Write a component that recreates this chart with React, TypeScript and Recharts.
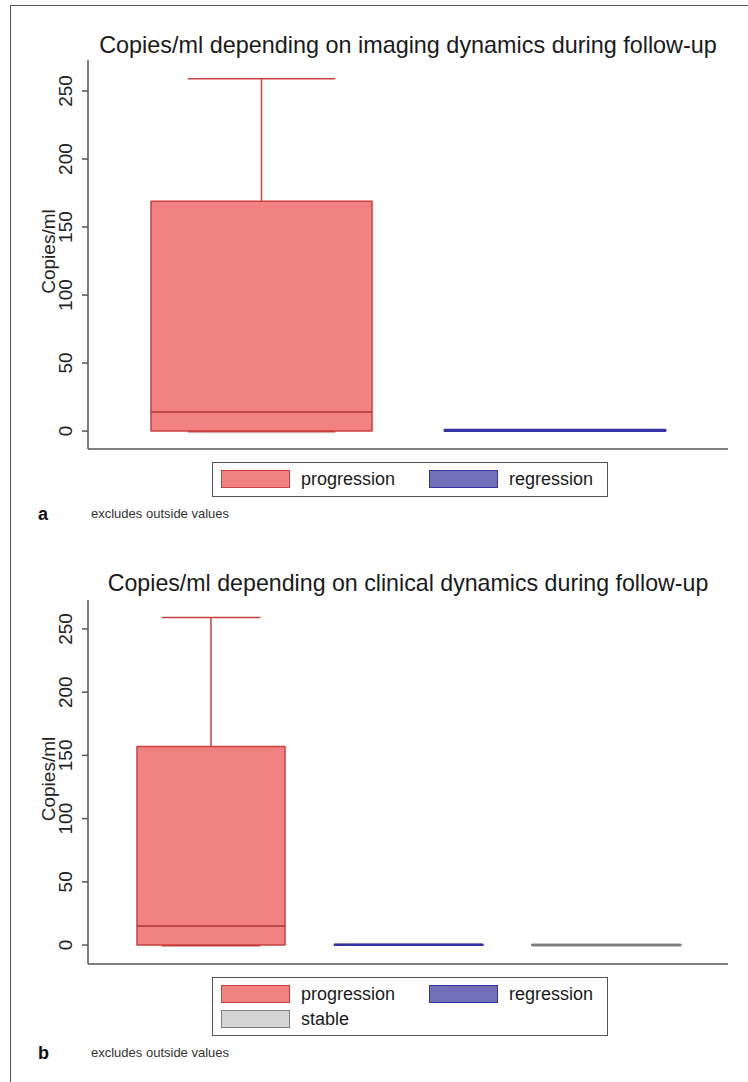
import { Bar, ComposedChart, XAxis, YAxis } from 'recharts'

// panel a: imaging dynamics
const imagingGroups = ['progression', 'regression']
const imagingMin = [0, 0]
const imagingQ1 = [0, 0]
const imagingMedian = [14, 0.5]
const imagingQ3 = [169, 1]
const imagingMax = [259, 1]

// panel b: clinical dynamics
const clinicalGroups = ['progression', 'regression', 'stable']
const clinicalMin = [0, 0, 0]
const clinicalQ1 = [0, 0, 0]
const clinicalMedian = [15, 0.3, 0]
const clinicalQ3 = [157, 0.6, 0]
const clinicalMax = [259, 0.6, 0]

const yTicks = [0, 50, 100, 150, 200, 250]

const FONT = '"Liberation Sans", Arial, Helvetica, sans-serif'
const AXIS = '#555'

const groupStyle: Record<string, { fill: string; stroke: string; median: string; legend: string; line: number }> = {
  progression: { fill: '#f28282', stroke: '#c8403f', median: '#b54848', legend: '#f28282', line: 1.5 },
  regression: { fill: '#6f70b8', stroke: '#3434a6', median: '#3434a6', legend: '#6f70b8', line: 1.8 },
  stable: { fill: '#d4d4d4', stroke: '#7e7e7e', median: '#7e7e7e', legend: '#d4d4d4', line: 2.4 },
}

function buildRows(groups: string[], min: number[], q1: number[], med: number[], q3: number[], max: number[]) {
  return groups.map((name, i) => ({
    name,
    base: min[i],
    lowW: q1[i] - min[i],
    boxLo: med[i] - q1[i],
    boxHi: q3[i] - med[i],
    highW: max[i] - q3[i],
  }))
}

const imagingRows = buildRows(imagingGroups, imagingMin, imagingQ1, imagingMedian, imagingQ3, imagingMax)
const clinicalRows = buildRows(clinicalGroups, clinicalMin, clinicalQ1, clinicalMedian, clinicalQ3, clinicalMax)

function LowWhisker(props: any) {
  const { x, y, width, height, payload } = props
  const s = groupStyle[payload.name]
  const cx = x + width / 2
  const bottom = y + height
  if (payload.name !== 'progression') return <g />
  return (
    <g>
      <line x1={cx} x2={cx} y1={y} y2={bottom} stroke={s.stroke} strokeWidth={1.5} />
      <line x1={cx - width / 3} x2={cx + width / 3} y1={bottom + 0.5} y2={bottom + 0.5} stroke={s.stroke} strokeWidth={1.8} />
    </g>
  )
}

function HighWhisker(props: any) {
  const { x, y, width, height, payload } = props
  const s = groupStyle[payload.name]
  const cx = x + width / 2
  if (payload.name !== 'progression') return <g />
  return (
    <g>
      <line x1={cx} x2={cx} y1={y} y2={y + height} stroke={s.stroke} strokeWidth={1.5} />
      <line x1={cx - width / 3} x2={cx + width / 3} y1={y} y2={y} stroke={s.stroke} strokeWidth={1.5} />
    </g>
  )
}

function BoxPart(props: any) {
  const { x, y, width, height, payload } = props
  const s = groupStyle[payload.name]
  const h = Math.max(height, 0)
  const thin = payload.name !== 'progression'
  return (
    <path
      d={`M${x},${y} h${width} v${h} h${-width} Z`}
      fill={thin ? 'none' : s.fill}
      stroke={s.stroke}
      strokeWidth={s.line}
      strokeLinejoin="round"
      strokeLinecap="round"
    />
  )
}

function BoxTop(props: any) {
  const { x, y, width, height, payload } = props
  const s = groupStyle[payload.name]
  const bottom = y + Math.max(height, 0)
  return (
    <g>
      <BoxPart {...props} />
      {payload.name === 'progression' && (
        <line x1={x} x2={x + width} y1={bottom} y2={bottom} stroke={s.median} strokeWidth={1.5} />
      )}
    </g>
  )
}

function RotatedTick(props: any) {
  const { y, payload } = props
  const cx = 66
  return (
    <text
      x={cx}
      y={y}
      transform={`rotate(-90 ${cx} ${y})`}
      textAnchor="middle"
      dominantBaseline="central"
      fontSize={19}
      fontFamily={FONT}
      fill="#222"
    >
      {payload.value}
    </text>
  )
}

function YTitle(props: any) {
  const vb = props.viewBox || {}
  const cy = (vb.y ?? 60) + (vb.height ?? 390) / 2 - 3
  const cx = 48
  return (
    <text
      x={cx}
      y={cy}
      transform={`rotate(-90 ${cx} ${cy})`}
      textAnchor="middle"
      dominantBaseline="central"
      fontSize={19}
      fontFamily={FONT}
      fill="#222"
    >
      Copies/ml
    </text>
  )
}

interface PanelProps {
  rows: ReturnType<typeof buildRows>
  top: number
  height: number
  domain: [number, number]
  barSize: number
  padding: { left: number; right: number }
}

function BoxPanel({ rows, top, height, domain, barSize, padding }: PanelProps) {
  return (
    <div style={{ position: 'absolute', left: 0, top }}>
      <ComposedChart
        width={748}
        height={height}
        data={rows}
        margin={{ top: 60, right: 20, bottom: 0, left: 0 }}
        barSize={barSize}
      >
        <XAxis
          dataKey="name"
          tick={false}
          tickLine={false}
          height={1}
          padding={padding}
          stroke={AXIS}
          strokeWidth={1.5}
        />
        <YAxis
          type="number"
          domain={domain}
          allowDataOverflow
          ticks={yTicks}
          interval={0}
          width={88}
          tickSize={6}
          tick={<RotatedTick />}
          stroke={AXIS}
          strokeWidth={1.5}
          label={{ value: 'Copies/ml', content: <YTitle /> }}
        />
        <Bar dataKey="base" stackId="box" fill="transparent" isAnimationActive={false} shape={() => <g />} />
        <Bar dataKey="lowW" stackId="box" isAnimationActive={false} shape={<LowWhisker />} />
        <Bar dataKey="boxLo" stackId="box" isAnimationActive={false} shape={<BoxPart />} />
        <Bar dataKey="boxHi" stackId="box" isAnimationActive={false} shape={<BoxTop />} />
        <Bar dataKey="highW" stackId="box" isAnimationActive={false} shape={<HighWhisker />} />
      </ComposedChart>
    </div>
  )
}

function LegendBox({ groups, top, height }: { groups: string[]; top: number; height: number }) {
  return (
    <div
      style={{
        position: 'absolute',
        left: 212,
        top,
        width: 396,
        height,
        border: `1.5px solid ${AXIS}`,
        boxSizing: 'border-box',
        fontFamily: FONT,
      }}
    >
      {groups.map((g, i) => {
        const col = i % 2
        const row = Math.floor(i / 2)
        const cy = 16 + row * 25
        return (
          <div key={g}>
            <div
              style={{
                position: 'absolute',
                left: 8 + col * 208,
                top: cy - 9,
                width: 69,
                height: 18,
                background: groupStyle[g].legend,
                border: `1.5px solid ${groupStyle[g].stroke}`,
                boxSizing: 'border-box',
              }}
            />
            <div
              style={{
                position: 'absolute',
                left: 88 + col * 208,
                top: cy - 12,
                height: 24,
                lineHeight: '24px',
                fontSize: 18,
                color: '#1a1a1a',
                whiteSpace: 'nowrap',
              }}
            >
              {g}
            </div>
          </div>
        )
      })}
    </div>
  )
}

function Title({ text, cy, size }: { text: string; cy: number; size: number }) {
  return (
    <div
      style={{
        position: 'absolute',
        left: 88,
        width: 640,
        top: cy - 14,
        height: 28,
        lineHeight: '28px',
        textAlign: 'center',
        fontFamily: FONT,
        fontSize: size,
        color: '#1a1a1a',
        whiteSpace: 'nowrap',
      }}
    >
      {text}
    </div>
  )
}

function Footer({ letter, cy }: { letter: string; cy: number }) {
  return (
    <>
      <div
        style={{
          position: 'absolute',
          left: 38,
          top: cy - 11,
          lineHeight: '22px',
          fontFamily: FONT,
          fontWeight: 'bold',
          fontSize: 18,
          color: '#111',
        }}
      >
        {letter}
      </div>
      <div
        style={{
          position: 'absolute',
          left: 91,
          top: cy - 8,
          lineHeight: '16px',
          fontFamily: FONT,
          fontSize: 13,
          color: '#333',
          whiteSpace: 'nowrap',
        }}
      >
        excludes outside values
      </div>
    </>
  )
}

export default function App() {
  return (
    <div style={{ position: 'relative', width: 748, height: 1082, background: '#fff', overflow: 'hidden' }}>
      <style>{'body{margin:0}'}</style>
      {/* figure frame: top and left edges only */}
      <div style={{ position: 'absolute', left: 10, top: 5, width: 738, height: 1077, borderTop: `1.5px solid ${AXIS}`, borderLeft: `1.5px solid ${AXIS}` }} />

      <Title text="Copies/ml depending on imaging dynamics during follow-up" cy={45} size={23.4} />
      <BoxPanel
        rows={imagingRows}
        top={0}
        height={450}
        domain={[-13.2, 272.8]}
        barSize={221}
        padding={{ left: 27, right: 26 }}
      />
      <LegendBox groups={imagingGroups} top={462} height={35} />
      <Footer letter="a" cy={514} />

      <Title text="Copies/ml depending on clinical dynamics during follow-up" cy={583} size={23.2} />
      <BoxPanel
        rows={clinicalRows}
        top={540}
        height={425}
        domain={[-15, 272.9]}
        barSize={148}
        padding={{ left: 24, right: 23 }}
      />
      <LegendBox groups={clinicalGroups} top={977} height={59} />
      <Footer letter="b" cy={1053} />
    </div>
  )
}
